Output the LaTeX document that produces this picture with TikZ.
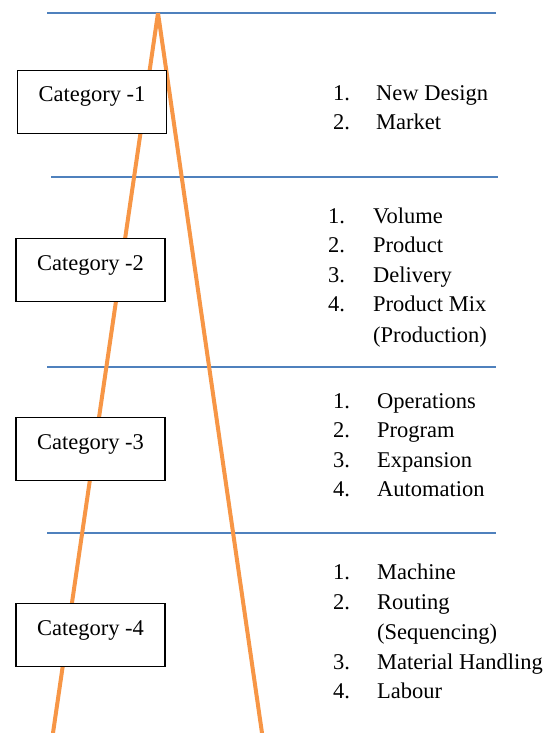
\documentclass[tikz,border=0pt]{standalone}
\usepackage{fontspec}
\setmainfont{Liberation Serif}
\newfontfamily\timesfont{Liberation Serif}
\usepackage{tikz}
\usetikzlibrary{positioning}
\definecolor{lineblue}{RGB}{79,129,189}
\definecolor{ridgeorange}{RGB}{247,150,70}
\tikzset{
  catbox/.style={draw, line width=1.3pt, fill=white, inner sep=0pt,
    minimum width=149pt, text height=31.3pt, text depth=31.5pt, anchor=base},
  listnum/.style={anchor=base west, inner sep=0pt},
  listitem/.style={anchor=base west, inner sep=0pt},
  sepline/.style={lineblue, line width=1.5pt},
  ridge/.style={ridgeorange, line width=4pt},
}

\begin{document}
\begin{tikzpicture}[x=1pt, y=-1pt, font=\timesfont\fontsize{22.5}{27}\selectfont]
  \useasboundingbox (0,0) rectangle (548,733);

  % separators
  \draw[sepline] (47,13) coordinate (s1a) -- (496,13) coordinate (s1b);
  \draw[sepline] (51,177) coordinate (s2a) -- (498,177) coordinate (s2b);
  \foreach \yy/\nm in {367/s3, 533/s4}
    \draw[sepline] (47,\yy) coordinate (\nm a) -- (496,\yy) coordinate (\nm b);

  % the two legs
  \coordinate (apex) at (158,13);
  \coordinate (footL) at (53,733);
  \coordinate (footR) at (262,733);
  \draw[ridge] (apex) -- (footL);
  \draw[ridge] (apex) -- (footR);

  % categories
  \node[catbox] (cat1) at (92,101.7) {Category -1};
  \node[catbox] (cat2) at (90.5,270) {Category -2};
  \node[catbox] (cat3) at (90.5,449) {Category -3};
  \node[catbox] (cat4) at (90.5,635) {Category -4};

  % list 1
  \node[listnum] (l1n1) at (333,100.7) {1.};
  \node[listitem] (l1i1) at (376,100.7) {New Design};
  \node[listnum] (l1n2) at (333,130) {2.};
  \node[listitem] (l1i2) at (376,130) {Market};

  % list 2
  \foreach \t [count=\i] in {Volume, Product, Delivery, Product Mix}{
    \node[listnum] (l2n\i) at (328,{193.5+29.6*\i}) {\i.};
    \node[listitem] (l2i\i) at (373,{193.5+29.6*\i}) {\t};
  }
  \node[listitem] (l2i5) at (373,342) {(Production)};

  % list 3
  \foreach \t [count=\i] in {Operations, Program, Expansion, Automation}{
    \node[listnum] (l3n\i) at (333,{378.5+29.6*\i}) {\i.};
    \node[listitem] (l3i\i) at (377,{378.5+29.6*\i}) {\t};
  }

  % list 4
  \node[listnum] (l4n1) at (333,579) {1.};
  \node[listitem] (l4i1) at (377,579) {Machine};
  \node[listnum] (l4n2) at (333,609) {2.};
  \node[listitem] (l4i2) at (377,609) {Routing};
  \node[listitem] (l4i3) at (377,639) {(Sequencing)};
  \node[listnum] (l4n3) at (333,669) {3.};
  \node[listitem] (l4i4) at (377,669) {Material Handling};
  \node[listnum] (l4n4) at (333,698) {4.};
  \node[listitem] (l4i5) at (377,698) {Labour};
\end{tikzpicture}
\end{document}
